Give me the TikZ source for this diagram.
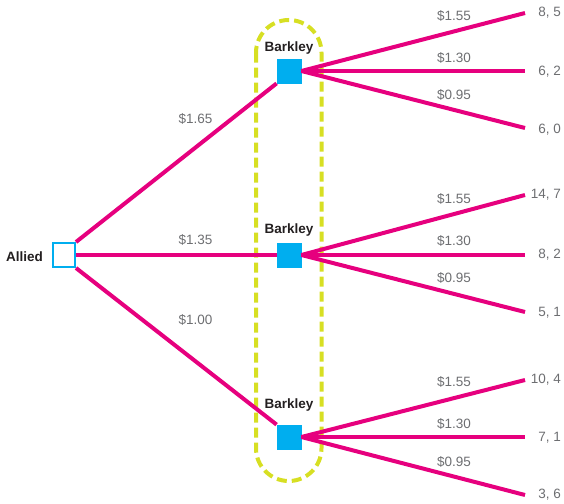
\documentclass[tikz,border=0pt]{standalone}
\usepackage{fontspec}
\setmainfont{Liberation Sans}
\definecolor{mag}{HTML}{E6007E}
\definecolor{cyn}{HTML}{00AEEF}
\definecolor{ylw}{HTML}{D7DF23}
\definecolor{txtgray}{HTML}{6D6E71}
\definecolor{txtdark}{HTML}{231F20}
\begin{document}
\begin{tikzpicture}[x=1pt,y=-1pt,
  branch/.style={draw=mag,line width=4pt},
  decbox/.style={draw=cyn,fill=cyn,minimum width=24pt,minimum height=24pt,inner sep=0pt,line width=0.8pt},
  startbox/.style={draw=cyn,fill=white,minimum width=22pt,minimum height=24pt,inner sep=0pt,line width=2pt},
  player/.style={text=txtdark,font=\fontsize{13.5}{15}\selectfont\bfseries,inner sep=0pt},
  price/.style={text=txtgray,font=\fontsize{13.5}{15}\selectfont,inner sep=0pt},
  payoff/.style={text=txtgray,font=\fontsize{13.5}{15}\selectfont,inner sep=0pt,anchor=east},
  infoset/.style={draw=ylw,line width=4pt,dash pattern=on 10pt off 5pt}
]
\useasboundingbox (0,0) rectangle (564,503);
% information set
\draw[infoset,rounded corners=32.7pt] (256,20) rectangle (321.5,481);
% nodes
\node[startbox] (allied) at (64,255) {};
\node[player,anchor=east] (alliedlbl) at (43,257) {Allied};
\node[decbox] (b1) at (289,71) {};
\node[decbox] (b2) at (289,255) {};
\node[decbox] (b3) at (289,437) {};
\node[player] (b1lbl) at (289,48) {Barkley};
\node[player] (b2lbl) at (289,230) {Barkley};
\node[player] (b3lbl) at (289,405) {Barkley};
% end points
\coordinate (e11) at (525,13);
\coordinate (e12) at (525,71);
\coordinate (e13) at (525,128);
\coordinate (e21) at (525,195);
\coordinate (e22) at (525,255);
\coordinate (e23) at (525,312);
\coordinate (e31) at (525,380);
\coordinate (e32) at (525,437);
\coordinate (e33) at (525,495);
% first-level branches
\draw[branch] (allied.north east) -- (b1.south west);
\draw[branch] (allied.east) -- (b2.west);
\draw[branch] (allied.south east) -- (b3.north west);
% second-level branches
\foreach \i in {1,2,3}{
  \draw[branch] (b\i.east) -- (e\i1);
  \draw[branch] (b\i.east) -- (e\i2);
  \draw[branch] (b\i.east) -- (e\i3);
}
% price labels, Allied
\node[price] (p1) at (195.5,119) {\$1.65};
\node[price] (p2) at (195.5,240) {\$1.35};
\node[price] (p3) at (195.5,320) {\$1.00};
% price labels, Barkley
\node[price] (q11) at (454,16) {\$1.55};
\node[price] (q12) at (454,58) {\$1.30};
\node[price] (q13) at (454,95) {\$0.95};
\node[price] (q21) at (454,199) {\$1.55};
\node[price] (q22) at (454,241) {\$1.30};
\node[price] (q23) at (454,278) {\$0.95};
\node[price] (q31) at (454,382) {\$1.55};
\node[price] (q32) at (454,424) {\$1.30};
\node[price] (q33) at (454,462) {\$0.95};
% payoffs
\node[payoff] (r11) at (561,13) {8, 5};
\node[payoff] (r12) at (561,72) {6, 2};
\node[payoff] (r13) at (561,130) {6, 0};
\node[payoff] (r21) at (561,195) {14, 7};
\node[payoff] (r22) at (561,255) {8, 2};
\node[payoff] (r23) at (561,313) {5, 1};
\node[payoff] (r31) at (561,380) {10, 4};
\node[payoff] (r32) at (561,438) {7, 1};
\node[payoff] (r33) at (561,495) {3, 6};
\end{tikzpicture}
\end{document}
